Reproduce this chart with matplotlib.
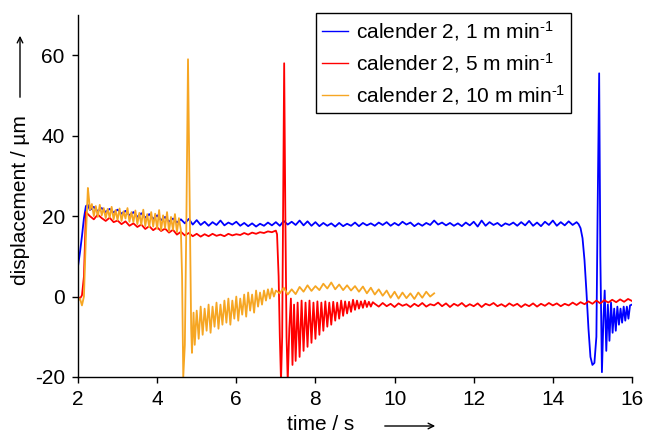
#!/usr/bin/env python3
import numpy as np
import matplotlib
matplotlib.use('Agg')
import matplotlib.pyplot as plt

plt.rcParams['font.family'] = ['Liberation Sans', 'DejaVu Sans']
plt.rcParams['mathtext.fontset'] = 'custom'
plt.rcParams['mathtext.rm'] = 'Liberation Sans'
plt.rcParams['mathtext.default'] = 'regular'
plt.rcParams['axes.unicode_minus'] = False

# ---- calender 2, 1 m/min (blue) ----
blue_t = ([2.0, 2.05, 2.1, 2.15, 2.2, 2.25]
          + list(np.round(np.arange(2.3, 14.65, 0.1), 2))
          + [14.65, 14.7, 14.75, 14.8, 14.85, 14.9, 14.95, 15.0, 15.05, 15.1,
             15.13, 15.17, 15.2, 15.24, 15.28, 15.31, 15.35, 15.39, 15.43, 15.47,
             15.51, 15.55, 15.59, 15.63, 15.67, 15.71, 15.75, 15.79, 15.83, 15.87,
             15.91, 15.95, 16.0])
blue_v = [7.5, 11, 15, 19.5, 22.5, 22.8,
          21.5, 22.3, 21.2, 22.0, 21.0, 21.8, 20.9, 21.6, 20.6, 21.3,
          20.2, 21.0, 19.8, 20.7, 19.6, 20.5, 19.3, 20.2, 19.0, 19.8,
          18.6, 19.4, 18.4, 19.2, 18.2, 19.3, 17.9, 19.0, 17.8, 18.6,
          17.6, 18.5, 17.8, 18.9, 17.7, 18.4, 17.9, 18.6, 17.6, 18.3,
          17.5, 18.2, 17.4, 18.1, 17.6, 18.4, 17.7, 18.5, 17.6, 18.8,
          17.9, 18.6, 17.8, 18.9, 17.7, 18.7, 17.6, 18.5, 17.5, 18.3,
          17.6, 18.2, 17.4, 18.3, 17.5, 18.1, 17.6, 18.4, 17.5, 18.3,
          17.7, 18.2, 17.6, 18.4, 17.8, 18.5, 17.6, 18.3, 17.7, 18.6,
          17.9, 18.4, 17.5, 18.2, 17.6, 18.3, 17.8, 18.9, 17.9, 18.4,
          17.7, 18.3, 17.6, 18.2, 17.5, 18.4, 17.7, 18.6, 17.4, 18.9,
          17.6, 18.5, 17.8, 18.3, 17.5, 18.2, 17.8, 18.4, 17.6, 18.5,
          17.7, 18.8, 17.6, 18.4, 17.5, 18.6, 17.8, 18.9, 17.6, 18.5,
          17.7, 18.7, 17.8, 18.5,
          18.0, 17.0, 14.5, 9, 1, -8, -15, -17, -16.5, -10,
          20, 55.5, 10, -18.8, -5, 1.5, -13.5, -2, -11, -1.5,
          -9, -3, -8.5, -2.5, -7, -3, -6.5, -2.5, -6, -2.5,
          -5.5, -2.2, -2]

# ---- calender 2, 5 m/min (red) ----
red_t = ([2.0, 2.05, 2.1, 2.15, 2.2, 2.25]
         + list(np.round(np.arange(2.3, 7.05, 0.1), 2))
         + [7.03, 7.07, 7.1, 7.13, 7.16, 7.19, 7.21, 7.24, 7.27, 7.30,
            7.34, 7.38, 7.42, 7.46, 7.50, 7.55, 7.60, 7.65, 7.70, 7.75,
            7.80, 7.85, 7.90, 7.95, 8.00, 8.05, 8.10, 8.15, 8.20, 8.25,
            8.30, 8.35, 8.40, 8.45, 8.50, 8.55, 8.60, 8.65, 8.70, 8.75,
            8.80, 8.85, 8.90, 8.95, 9.00, 9.05, 9.10, 9.15, 9.20, 9.25,
            9.30, 9.35, 9.40, 9.45]
         + list(np.round(np.arange(9.5, 16.05, 0.1), 2)))
red_v = [0, -0.5, 0.3, 5, 21, 20.5,
         20.0, 19.2, 20.4, 19.5, 18.8, 19.6, 18.5, 18.9, 18.0, 18.7,
         17.6, 18.2, 17.3, 17.9, 16.8, 17.5, 16.5, 17.2, 16.3, 16.9,
         15.9, 16.6, 15.4, 16.1, 15.2, 15.8, 15.0, 15.6, 14.9, 15.5,
         15.0, 15.6, 15.1, 15.4, 15.0, 15.6, 15.2, 15.5, 15.3, 15.8,
         15.4, 15.9, 15.6, 16.0, 15.8, 16.2, 16.0, 16.4,
         15.5, 5, -10, -21, -10, 30, 58, 20, -10, -21,
         -8, -0.5, -17, -2, -16, -1.5, -15, -1, -13.5, -1.5,
         -12.5, -1, -11.5, -1.5, -10.5, -1.2, -9.5, -1.5, -8.5, -1.2,
         -7.5, -1.5, -7, -1.3, -6, -1.5, -5.5, -1, -4.8, -1.2,
         -4.2, -1.3, -3.8, -0.8, -3.3, -1.0, -3.0, -1.2, -2.8, -1.0,
         -2.6, -1.3, -2.5, -1.4,
         -1.8, -2.5, -1.6, -2.4, -1.8, -2.6, -1.7, -2.3, -1.9, -2.6,
         -1.8, -2.4, -1.6, -2.5, -1.9, -2.2, -1.5, -2.4, -1.7, -2.6,
         -1.8, -2.3, -1.6, -2.5, -1.9, -2.4, -1.7, -2.6, -1.8, -2.2,
         -1.6, -2.4, -1.9, -2.5, -1.7, -2.3, -1.8, -2.6, -1.9, -2.4,
         -1.7, -2.5, -1.8, -2.3, -1.6, -2.2, -1.7, -2.4, -1.8, -2.2,
         -1.5, -2.1, -1.4, -1.9, -1.2, -1.8, -1.0, -1.7, -0.9, -1.5,
         -0.8, -1.4, -0.7, -1.3, -0.6, -1.1]

# ---- calender 2, 10 m/min (orange) ----
orange_t = ([2.0, 2.05, 2.1, 2.15, 2.2, 2.25, 2.28]
            + list(np.round(np.arange(2.3, 4.625, 0.05), 2))
            + [4.63, 4.66, 4.70, 4.74, 4.78, 4.82, 4.86, 4.88, 4.92]
            + list(np.round(np.arange(4.95, 7.025, 0.05), 2))
            + list(np.round(np.arange(7.1, 11.05, 0.1), 2)))
orange_v = [-1, -0.5, -2.2, 0, 15, 27, 24,
            21.5, 23.0, 20.0, 22.5, 19.8, 22.8, 20.2, 22.0, 19.5, 21.8,
            19.6, 22.3, 19.2, 21.5, 19.0, 21.9, 18.8, 21.2, 19.4, 22.0,
            18.6, 21.0, 18.5, 21.4, 18.0, 20.8, 17.8, 21.6, 17.5, 20.5,
            17.2, 21.0, 17.4, 20.6, 16.8, 21.5, 16.5, 20.2, 17.0, 21.0,
            16.2, 19.8, 16.6, 20.5, 16.0, 19.5, 16.5,
            5, -20, -12, 20, 59, 25, -8, -14, -4,
            -12, -3.5, -10.5, -2.5, -9.5, -3, -8.5, -2.0, -9.0, -2.5,
            -7.5, -1.5, -8.0, -2.0, -7.0, -1.0, -6.5, -0.5, -7.0, -1.0,
            -5.5, 0.0, -6.0, -0.5, -4.5, 0.5, -5.0, 1.0, -3.5, 0.5,
            -4.0, 1.5, -2.5, 1.0, -2.0, 1.5, -1.0, 1.8, -0.5, 2.0,
            0.0, 1.5,
            0.8, 2.2, 0.5, 1.8, 0.6, 2.4, 1.2, 2.8, 1.4, 2.6,
            1.6, 3.2, 2.0, 3.5, 1.8, 3.0, 1.6, 2.8, 1.5, 2.6,
            1.2, 2.5, 0.8, 2.2, 0.5, 1.8, 0.2, 1.5, -0.3, 1.2,
            -0.5, 1.0, -0.4, 0.8, -0.6, 1.0, -0.3, 1.2, 0.0, 0.8]

labels = [r'calender 2, 1 m min$^{\text{-}1}$',
          r'calender 2, 5 m min$^{\text{-}1}$',
          r'calender 2, 10 m min$^{\text{-}1}$']
colors = ['#0000ff', '#ff0000', '#f6a623']

W, H = 646, 434
fig = plt.figure(figsize=(W / 100, H / 100), dpi=100)
ax = fig.add_axes([78 / W, 1 - 377 / H, (632 - 78) / W, (377 - 15) / H])

for t, v, c, lab in zip([blue_t, red_t, orange_t], [blue_v, red_v, orange_v],
                        colors, labels):
    ax.plot(t, v, color=c, lw=1.3, label=lab)

ax.set_xlim(2, 16)
ax.set_ylim(-20, 70)
ax.set_xticks(np.arange(2, 17, 2))
ax.set_yticks([-20, 0, 20, 40, 60])
for s in ('top', 'right'):
    ax.spines[s].set_visible(False)
for s in ('left', 'bottom'):
    ax.spines[s].set_linewidth(1.0)
ax.tick_params(direction='out', length=4.5, width=1.0, pad=5, labelsize=15)

leg = ax.legend(loc='upper left', bbox_to_anchor=(316 / W, 1 - 13 / H),
                bbox_transform=fig.transFigure, borderaxespad=0,
                fontsize=15, fancybox=False, framealpha=1, edgecolor='black',
                handlelength=1.25, handletextpad=0.35, labelspacing=0.38,
                borderpad=0.3)
leg.get_frame().set_linewidth(1.0)
for line in leg.get_lines():
    line.set_linewidth(1.0)

# axis labels with arrows
fig.text(21 / W, 1 - 200 / H, 'displacement / µm', rotation=90,
         ha='center', va='center', fontsize=15)
fig.text(321 / W, 1 - 424 / H, 'time / s', ha='center', va='center',
         fontsize=15)
ax.annotate('', xy=(20 / W, 1 - 33 / H), xytext=(20 / W, 1 - 100 / H),
            xycoords='figure fraction', textcoords='figure fraction',
            arrowprops=dict(arrowstyle='->', lw=1.0, color='black'))
ax.annotate('', xy=(438 / W, 1 - 426 / H), xytext=(382 / W, 1 - 426 / H),
            xycoords='figure fraction', textcoords='figure fraction',
            arrowprops=dict(arrowstyle='->', lw=1.0, color='black'))

fig.savefig('out.png', dpi=100)
